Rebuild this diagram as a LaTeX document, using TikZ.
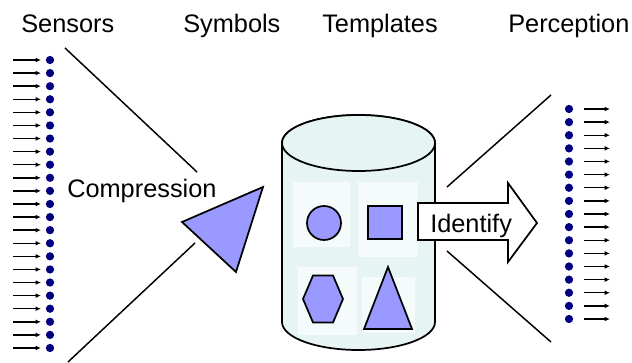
\documentclass[tikz,border=0pt]{standalone}
\usepackage{fontspec}
\setmainfont{Liberation Sans}
\usetikzlibrary{arrows.meta,shapes.geometric}
\definecolor{navy}{HTML}{000080}
\definecolor{shapefill}{HTML}{9999FF}
\definecolor{cylfill}{HTML}{E6F4F4}
\tikzset{
  dot/.style={circle,fill=navy,inner sep=0pt,minimum size=6.2pt},
  sarrow/.style={line width=1.1pt,-{Latex[length=4pt,width=3.5pt]}},
  funnel/.style={line width=1.1pt},
  shp/.style={draw=black,line width=1.3pt,fill=shapefill},
  lbl/.style={font=\fontsize{19}{23}\selectfont,anchor=base west,inner sep=0pt},
}
\begin{document}
\begin{tikzpicture}[x=0.75pt,y=-0.75pt]
\useasboundingbox (0,0) rectangle (632,363);
% titles
\node[lbl] (tsens) at (21,33) {Sensors};
\node[lbl] (tsym) at (183,33) {Symbols};
\node[lbl] (ttemp) at (322,33) {Templates};
\node[lbl] (tperc) at (508,33) {Perception};
% sensors
\foreach \i in {0,...,22}{
  \pgfmathsetmacro\yy{60+\i*13.09}
  \node[dot] (s\i) at (50,\yy) {};
  \coordinate (sa\i) at (13,\yy);
  \coordinate (sb\i) at (41,\yy);
  \draw[sarrow] (sa\i) -- (sb\i);
}
% perception
\foreach \i in {0,...,16}{
  \pgfmathsetmacro\yy{109+\i*13.125}
  \node[dot] (p\i) at (569,\yy) {};
  \coordinate (pa\i) at (584,\yy);
  \coordinate (pb\i) at (610,\yy);
  \draw[sarrow] (pa\i) -- (pb\i);
}
% funnel lines
\coordinate (l1a) at (65,48); \coordinate (l1b) at (197,172);
\coordinate (l2a) at (68,362); \coordinate (l2b) at (195,243);
\coordinate (r1a) at (447,187); \coordinate (r1b) at (551,95);
\coordinate (r2a) at (447,251); \coordinate (r2b) at (551,342);
\draw[funnel] (l1a) -- (l1b);
\draw[funnel] (l2a) -- (l2b);
\draw[funnel] (r1a) -- (r1b);
\draw[funnel] (r2a) -- (r2b);
% compression
\node[lbl] (comp) at (67,198) {Compression};
\draw[shp] (182,222) -- (263,187) -- (236,272) -- cycle;
% cylinder
\draw[line width=1.3pt,fill=cylfill] (282,143) -- (282,322) arc[start angle=180,end angle=0,x radius=76.5,y radius=28] -- (435,143) arc[start angle=360,end angle=180,x radius=76.5,y radius=28] -- cycle;
% faint white panels
\fill[white,opacity=0.6] (293,182) rectangle (350,247);
\fill[white,opacity=0.6] (358,182) rectangle (418,257);
\fill[white,opacity=0.6] (298,267) rectangle (357,335);
\fill[white,opacity=0.6] (362,277) rectangle (415,333);
\draw[line width=1.3pt,fill=cylfill] (358.5,143) ellipse[x radius=76.5,y radius=28];
% templates
\draw[shp] (324,223) circle[radius=17];
\draw[shp] (368,206) rectangle (402,239);
\draw[shp] (303,299) -- (313,275.5) -- (333,275.5) -- (343,299) -- (333,322.5) -- (313,322.5) -- cycle;
\draw[shp] (388,267) -- (412,329) -- (364,329) -- cycle;
% identify arrow
\draw[line width=1.3pt,fill=white] (418,203) -- (508,203) -- (508,183) -- (537,223) -- (508,262) -- (508,240) -- (418,240) -- cycle;
\node[lbl] (ident) at (430,233) {Identify};
\end{tikzpicture}
\end{document}
